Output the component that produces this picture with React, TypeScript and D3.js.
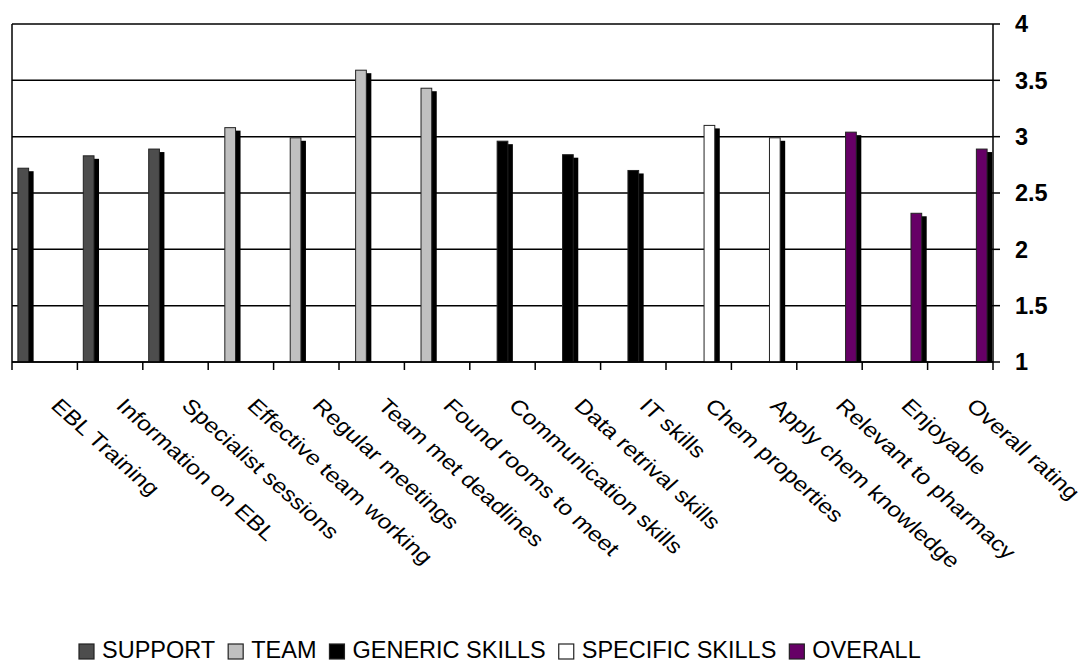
import React from "react";
import * as d3 from "d3";

const categories = [
  "EBL Training",
  "Information on EBL",
  "Specialist sessions",
  "Effective team working",
  "Regular meetings",
  "Team met deadlines",
  "Found rooms to meet",
  "Communication skills",
  "Data retrival skills",
  "IT skills",
  "Chem properties",
  "Apply chem knowledge",
  "Relevant to pharmacy",
  "Enjoyable",
  "Overall rating",
];

const seriesNames = ["SUPPORT", "TEAM", "GENERIC SKILLS", "SPECIFIC SKILLS", "OVERALL"];

const N = null;
const supportValues = [2.72, 2.83, 2.89, N, N, N, N, N, N, N, N, N, N, N, N];
const teamValues = [N, N, N, 3.08, 2.99, 3.59, 3.43, N, N, N, N, N, N, N, N];
const genericValues = [N, N, N, N, N, N, N, 2.96, 2.84, 2.7, N, N, N, N, N];
const specificValues = [N, N, N, N, N, N, N, N, N, N, 3.1, 2.99, N, N, N];
const overallValues = [N, N, N, N, N, N, N, N, N, N, N, N, 3.04, 2.32, 2.89];

const seriesValues = [supportValues, teamValues, genericValues, specificValues, overallValues];
const seriesColors = ["#4d4d4d", "#c0c0c0", "#000000", "#ffffff", "#660066"];

const yTicks = [1, 1.5, 2, 2.5, 3, 3.5, 4];

const FONT = "'Liberation Sans', Arial, sans-serif";
const FS = 23.5;
const LABEL_FS = 20.3;

function measure(text: string, weight = "normal") {
  if (typeof document === "undefined") return text.length * FS * 0.6;
  const c = document.createElement("canvas").getContext("2d");
  if (!c) return text.length * FS * 0.6;
  c.font = `${weight} ${FS}px 'Liberation Sans', Arial, sans-serif`;
  return c.measureText(text).width;
}

export default function App() {
  const W = 1086;
  const H = 662;
  const left = 12;
  const right = 993;
  const top = 24;
  const bottom = 362;

  const x0 = d3.scaleBand<string>().domain(categories).range([left, right]).padding(0);
  const x1 = d3
    .scaleBand<string>()
    .domain(seriesNames)
    .range([0, x0.bandwidth()])
    .paddingInner(0)
    .paddingOuter(0.55);
  const y = d3.scaleLinear().domain([1, 4]).range([bottom, top]);
  const fmt = d3.format("~g");

  const bars: { key: string; x: number; y: number; w: number; h: number; color: string }[] = [];
  seriesNames.forEach((s, si) => {
    seriesValues[si].forEach((v, ci) => {
      if (v == null) return;
      const bx = (x0(categories[ci]) as number) + (x1(s) as number);
      bars.push({
        key: `${s}-${ci}`,
        x: bx,
        y: y(v),
        w: x1.bandwidth(),
        h: bottom - y(v),
        color: seriesColors[si],
      });
    });
  });

  // legend layout
  const legendItems: { name: string; color: string; x: number }[] = [];
  let lx = 79;
  seriesNames.forEach((s, i) => {
    legendItems.push({ name: s, color: seriesColors[i], x: lx });
    lx += 23 + measure(s) + 13;
  });

  const catTickPositions = categories.map((c) => x0(c) as number).concat([right]);

  return (
    <svg
      width={W}
      height={H}
      style={{ position: "absolute", left: 0, top: 0, background: "#fff" }}
      fontFamily={FONT}
    >
      <rect x={0} y={0} width={W} height={H} fill="#fff" />
      {/* gridlines */}
      {yTicks.map((t) => (
        <line key={`g${t}`} x1={left} x2={right} y1={y(t)} y2={y(t)} stroke="#000" strokeWidth={1.5} />
      ))}
      {/* left border */}
      <line x1={left} x2={left} y1={top} y2={bottom} stroke="#000" strokeWidth={1.5} />
      {/* shadows */}
      {bars.map((b) => (
        <rect key={`s${b.key}`} x={b.x + 5} y={b.y + 3} width={b.w} height={b.h - 3} fill="#000" />
      ))}
      {/* bars */}
      {bars.map((b) => (
        <rect
          key={`b${b.key}`}
          x={b.x}
          y={b.y}
          width={b.w}
          height={b.h}
          fill={b.color}
          stroke="#222"
          strokeWidth={1}
        />
      ))}
      {/* x axis */}
      <line x1={left} x2={right} y1={bottom} y2={bottom} stroke="#000" strokeWidth={1.5} />
      {catTickPositions.map((p, i) => (
        <line key={`xt${i}`} x1={p} x2={p} y1={bottom} y2={bottom + 8} stroke="#000" strokeWidth={1.5} />
      ))}
      {/* right axis */}
      <line x1={right} x2={right} y1={top} y2={bottom} stroke="#000" strokeWidth={1.5} />
      {yTicks.map((t) => (
        <line key={`yt${t}`} x1={right} x2={right + 7} y1={y(t)} y2={y(t)} stroke="#000" strokeWidth={1.5} />
      ))}
      {yTicks.map((t) => (
        <text
          key={`yl${t}`}
          x={1015}
          y={y(t)}
          dy="0.36em"
          fontSize={FS}
          fontWeight="bold"
          fill="#000"
        >
          {fmt(t)}
        </text>
      ))}
      {/* category labels */}
      {categories.map((c) => {
        const cx = (x0(c) as number) + x0.bandwidth() / 2 + 5;
        const cy = 407;
        return (
          <text
            key={`cl${c}`}
            x={0}
            y={0}
            fontSize={LABEL_FS}
            fill="#000"
            transform={`translate(${cx} ${cy}) scale(1.12 1) rotate(45) scale(1.1 1)`}
          >
            {c}
          </text>
        );
      })}
      {/* legend */}
      {legendItems.map((it) => (
        <g key={`lg${it.name}`}>
          <rect x={it.x} y={644} width={15} height={15} fill={it.color} stroke="#222" strokeWidth={1.2} />
          <text x={it.x + 23} y={658} fontSize={FS} fill="#000">
            {it.name}
          </text>
        </g>
      ))}
    </svg>
  );
}
